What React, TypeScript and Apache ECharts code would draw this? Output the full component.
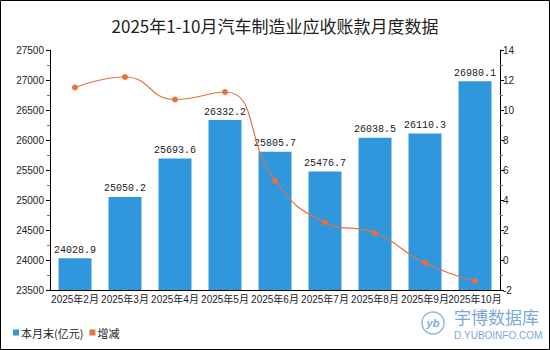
import React, { useEffect, useRef } from "react";
import * as echarts from "echarts";

const title = "2025年1-10月汽车制造业应收账款月度数据";
const categories = ["2025年2月", "2025年3月", "2025年4月", "2025年5月", "2025年6月", "2025年7月", "2025年8月", "2025年9月", "2025年10月"];
const barValues = [24028.9, 25050.2, 25693.6, 26332.2, 25805.7, 25476.7, 26038.5, 26110.3, 26980.1];
const lineValues = [11.5, 12.2, 10.7, 11.2, 5.3, 2.5, 1.8, -0.2, -1.4];
const barName = "本月末(亿元)";
const lineName = "增减";

export default function App() {
  const ref = useRef<HTMLDivElement>(null);
  useEffect(() => {
    if (!ref.current) return;
    const chart = echarts.init(ref.current, null, { renderer: "svg" });
    const axisFont = { fontSize: 10, color: "#222", fontFamily: "Liberation Sans, Noto Sans CJK SC, sans-serif" };
    chart.setOption({
      animation: false,
      backgroundColor: "#fff",
      title: {
        text: title,
        left: "center",
        top: 12,
        textStyle: { fontSize: 17, fontWeight: "normal", color: "#222", fontFamily: "Noto Sans CJK SC, sans-serif" },
      },
      grid: { left: 50, right: 50, top: 50, bottom: 60 },
      legend: {
        left: 8,
        top: 322,
        itemWidth: 6,
        itemHeight: 6,
        itemGap: 6,
        icon: "rect",
        textStyle: { fontSize: 11, color: "#222", fontFamily: "Noto Sans CJK SC, sans-serif", padding: [0, 0, 0, -3] },
        data: [barName, lineName],
      },
      xAxis: {
        type: "category",
        data: categories,
        axisLine: { onZero: false, lineStyle: { color: "#000" } },
        axisTick: { alignWithLabel: true, length: 4, lineStyle: { color: "#000" } },
        axisLabel: { ...axisFont, interval: 0, margin: 4 },
      },
      yAxis: [
        {
          type: "value",
          min: 23500,
          max: 27500,
          interval: 500,
          splitLine: { show: false },
          axisLine: { show: true, lineStyle: { color: "#000" } },
          axisTick: { show: true, length: 4, lineStyle: { color: "#000" } },
          minorTick: { show: true, splitNumber: 2, length: 3, lineStyle: { color: "#e84a4a" } },
          axisLabel: { ...axisFont, margin: 6, formatter: (v: number) => String(v) },
        },
        {
          type: "value",
          min: -2,
          max: 14,
          interval: 2,
          splitLine: { show: false },
          axisLine: { show: true, lineStyle: { color: "#000" } },
          axisTick: { show: true, length: 4, lineStyle: { color: "#000" } },
          minorTick: { show: true, splitNumber: 2, length: 3, lineStyle: { color: "#e84a4a" } },
          axisLabel: { ...axisFont, margin: 3 },
        },
      ],
      series: [
        {
          name: barName,
          type: "bar",
          data: barValues,
          barWidth: "66%",
          itemStyle: { color: "#3097dd" },
          label: {
            show: true,
            position: "top",
            distance: 3,
            fontSize: 10,
            color: "#222",
            fontFamily: "Liberation Mono, DejaVu Sans Mono, monospace",
          },
        },
        {
          name: lineName,
          type: "line",
          yAxisIndex: 1,
          data: lineValues,
          smooth: true,
          symbol: "circle",
          symbolSize: 6,
          itemStyle: { color: "#e8703a" },
          lineStyle: { color: "#e8703a", width: 1.2 },
        },
      ],
      graphic: [
        {
          type: "rect",
          shape: { x: 0.5, y: 0.5, width: 549, height: 349 },
          style: { fill: "none", stroke: "#000", lineWidth: 1 },
          silent: true,
        },
        {
          type: "circle",
          shape: { cx: 433, cy: 323, r: 11 },
          style: { fill: "#fff", stroke: "#8fb8e0", lineWidth: 1.5 },
        },
        {
          type: "text",
          x: 433,
          y: 323,
          style: { text: "yb", fill: "#7aa8d8", font: "italic bold 11px Liberation Sans", align: "center", verticalAlign: "middle" },
        },
        {
          type: "text",
          x: 454,
          y: 316,
          style: { text: "宇博数据库", fill: "#7aa8d8", font: "17px Noto Sans CJK SC", verticalAlign: "middle" },
        },
        {
          type: "text",
          x: 454,
          y: 335,
          style: { text: "D.YUBOINFO.COM", fill: "#7aa8d8", font: "10px Liberation Sans", verticalAlign: "middle" },
        },
      ],
    });
    return () => chart.dispose();
  }, []);
  return <div ref={ref} style={{ position: "fixed", left: 0, top: 0, width: 550, height: 350 }} />;
}
